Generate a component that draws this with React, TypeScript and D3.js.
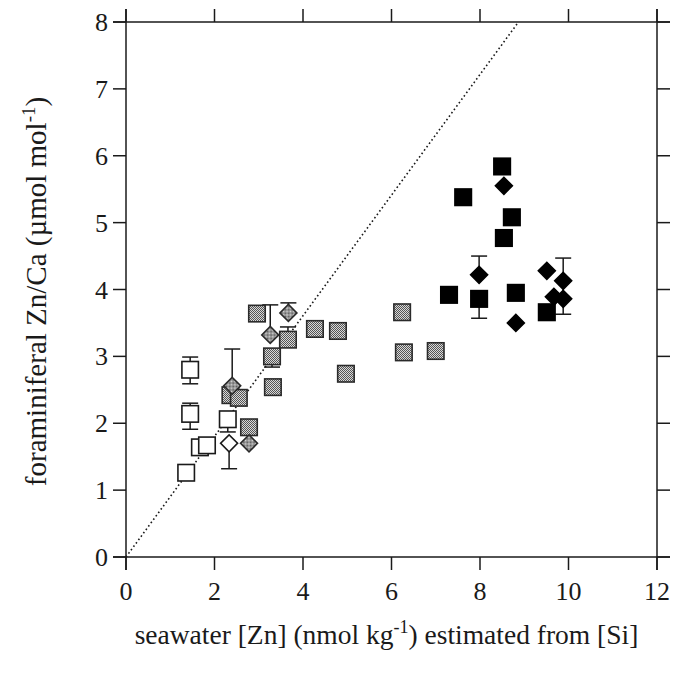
import React from "react";
import * as d3 from "d3";

const xTicks = [0, 2, 4, 6, 8, 10, 12];
const yTicks = [0, 1, 2, 3, 4, 5, 6, 7, 8];

const openSquares: [number, number][] = [
  [1.45, 2.8], [1.45, 2.14], [1.67, 1.64], [1.83, 1.67], [1.36, 1.26], [2.3, 2.06],
];
const openDiamonds: [number, number][] = [[2.33, 1.7]];
const greySquares: [number, number][] = [
  [2.96, 3.64], [3.3, 3.0], [3.66, 3.25], [4.27, 3.41], [4.79, 3.38], [4.97, 2.74],
  [3.32, 2.54], [2.78, 1.94], [2.36, 2.42], [2.55, 2.38], [6.24, 3.66], [6.28, 3.06], [7.0, 3.08],
];
const greyDiamonds: [number, number][] = [
  [2.4, 2.56], [3.26, 3.32], [3.67, 3.65], [2.78, 1.7],
];
const blackSquares: [number, number][] = [
  [8.5, 5.84], [7.62, 5.38], [8.72, 5.08], [8.54, 4.77], [7.98, 3.86], [7.3, 3.92], [8.81, 3.95], [9.51, 3.66],
];
const blackDiamonds: [number, number][] = [
  [8.54, 5.55], [7.98, 4.22], [8.81, 3.5], [9.51, 4.28], [9.88, 4.13], [9.67, 3.89], [9.88, 3.86],
];
// [x, low, high]
const errorBars: [number, number, number][] = [
  [1.45, 2.59, 2.99], [1.45, 1.91, 2.3], [2.3, 1.87, 2.06], [2.33, 1.32, 1.7],
  [2.4, 2.56, 3.11], [3.26, 3.32, 3.77], [3.67, 3.65, 3.8], [3.66, 3.25, 3.44],
  [3.3, 2.84, 3.0], [7.98, 4.22, 4.5], [7.98, 3.57, 3.86], [9.88, 3.63, 4.47],
];
const lineEnd: [number, number] = [8.87, 8];

const L = 126, R = 657, T = 22, B = 557;
const TICK = 13;
const FONT = "'Liberation Serif', 'Times New Roman', serif";
const INK = "#1a1a1a";

export default function App() {
  const x = d3.scaleLinear().domain([0, 12]).range([L, R]);
  const y = d3.scaleLinear().domain([0, 8]).range([B, T]);
  const S = 16.5;
  const D = 12;

  const sq = (p: [number, number], i: number, fill: string, stroke: string) => (
    <rect key={i} x={x(p[0]) - S / 2} y={y(p[1]) - S / 2} width={S} height={S}
      fill={fill} stroke={stroke} strokeWidth={1.6} />
  );
  const dm = (p: [number, number], i: number, fill: string, stroke: string) => (
    <rect key={i} x={-D / 2} y={-D / 2} width={D} height={D}
      transform={`translate(${x(p[0])},${y(p[1])}) rotate(45)`}
      fill={fill} stroke={stroke} strokeWidth={1.6} />
  );

  const line = d3.line<[number, number]>().x((d) => x(d[0])).y((d) => y(d[1]));

  return (
    <svg width={693} height={673} style={{ position: "absolute", left: 0, top: 0, background: "#fff" }}>
      <defs>
        <pattern id="stip" width={2} height={2} patternUnits="userSpaceOnUse">
          <rect width={2} height={2} fill="#d8d8d8" />
          <rect x={0} y={0} width={1} height={1} fill="#555" />
          <rect x={1} y={1} width={1} height={1} fill="#555" />
        </pattern>
      </defs>

      {/* axes frame with outward ticks */}
      <g stroke={INK} strokeWidth={1.5}>
        <line x1={L - TICK} x2={R + TICK} y1={B} y2={B} />
        <line x1={L - TICK} x2={R + TICK} y1={T} y2={T} />
        <line x1={L} x2={L} y1={T - TICK} y2={B + TICK} />
        <line x1={R} x2={R} y1={T - TICK} y2={B + TICK} />
        {xTicks.map((t) => (
          <g key={"xt" + t}>
            <line x1={x(t)} x2={x(t)} y1={B} y2={B + TICK} />
            <line x1={x(t)} x2={x(t)} y1={T} y2={T - TICK} />
          </g>
        ))}
        {yTicks.map((t) => (
          <g key={"yt" + t}>
            <line x1={L} x2={L - TICK} y1={y(t)} y2={y(t)} />
            <line x1={R} x2={R + TICK} y1={y(t)} y2={y(t)} />
          </g>
        ))}
      </g>

      {xTicks.map((t) => (
        <text key={"xl" + t} x={x(t)} y={B + 43} textAnchor="middle" fontFamily={FONT} fontSize={26} fill={INK}>{t}</text>
      ))}
      {yTicks.map((t) => (
        <text key={"yl" + t} x={L - 18} y={y(t) + 9} textAnchor="end" fontFamily={FONT} fontSize={26} fill={INK}>{t}</text>
      ))}

      <text x={(L + R) / 2 - 5} y={644} textAnchor="middle" fontFamily={FONT} fontSize={27.5} fill={INK}>
        seawater [Zn] (nmol kg<tspan dy={-11} fontSize={18}>-1</tspan><tspan dy={11}>) estimated from [Si]</tspan>
      </text>
      <text transform={`translate(46,${(T + B) / 2 + 2}) rotate(-90)`} textAnchor="middle" fontFamily={FONT} fontSize={29} fill={INK}>
        foraminiferal Zn/Ca (µmol mol<tspan dy={-11} fontSize={19}>-1</tspan><tspan dy={11}>)</tspan>
      </text>

      {/* dotted reference line */}
      <path d={line([[0, 0], lineEnd]) || ""} fill="none" stroke={INK} strokeWidth={1.6} strokeDasharray="1.6,2.6" />

      {/* error bars */}
      <g stroke={INK} strokeWidth={1.5}>
        {errorBars.map((e, i) => (
          <g key={"eb" + i}>
            <line x1={x(e[0])} x2={x(e[0])} y1={y(e[1])} y2={y(e[2])} />
            <line x1={x(e[0]) - 8} x2={x(e[0]) + 8} y1={y(e[1])} y2={y(e[1])} />
            <line x1={x(e[0]) - 8} x2={x(e[0]) + 8} y1={y(e[2])} y2={y(e[2])} />
          </g>
        ))}
      </g>

      <g>{greySquares.map((p, i) => sq(p, i, "url(#stip)", "#2a2a2a"))}</g>
      <g>{greyDiamonds.map((p, i) => dm(p, i, "url(#stip)", "#2a2a2a"))}</g>
      <g>{openSquares.map((p, i) => sq(p, i, "#fff", INK))}</g>
      <g>{openDiamonds.map((p, i) => dm(p, i, "#fff", INK))}</g>
      <g>{blackSquares.map((p, i) => sq(p, i, "#000", "#000"))}</g>
      <g>{blackDiamonds.map((p, i) => dm(p, i, "#000", "#000"))}</g>
    </svg>
  );
}
